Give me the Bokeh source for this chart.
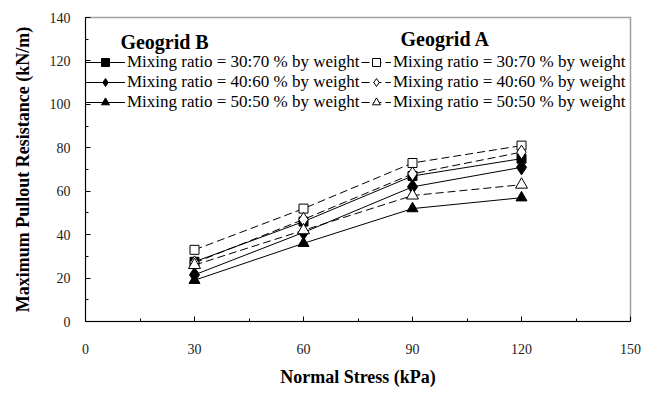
from bokeh.plotting import figure
from bokeh.models import Range1d, FixedTicker, Legend, LegendItem, Label
from bokeh.embed import file_html
from bokeh.resources import INLINE

# Data
normal_stress = [30, 60, 90, 120]
b_3070 = [27.5, 46, 67, 75]
b_4060 = [21.5, 41, 62, 71]
b_5050 = [19, 36, 52, 57]
a_3070 = [33, 52, 73, 81]
a_4060 = [27, 47, 68, 78]
a_5050 = [26, 42, 58, 63]
labels = ["Mixing ratio = 30:70 % by weight",
          "Mixing ratio = 40:60 % by weight",
          "Mixing ratio = 50:50 % by weight"]
x_ticks = [0, 30, 60, 90, 120, 150]
y_ticks = [0, 20, 40, 60, 80, 100, 120, 140]

SERIF = "Liberation Serif"

p = figure(width=651, height=389, output_backend="svg", toolbar_location=None,
           x_range=Range1d(0, 150), y_range=Range1d(0, 140),
           min_border_left=85, min_border_right=21, min_border_top=17, min_border_bottom=66)
p.grid.visible = False
p.outline_line_color = "#a0a0a0"
p.outline_line_width = 1.5
p.background_fill_color = "white"
p.border_fill_color = "white"

for ax in (p.xaxis[0], p.yaxis[0]):
    ax.axis_line_color = "black"
    ax.major_tick_in = 5
    ax.major_tick_out = 0
    ax.minor_tick_in = 3
    ax.minor_tick_out = 0
    ax.major_tick_line_color = "black"
    ax.minor_tick_line_color = "black"
    ax.major_label_text_font = SERIF
    ax.major_label_text_font_size = "14px"
    ax.major_label_text_color = "#222222"
    ax.axis_label_text_font = SERIF
    ax.axis_label_text_font_style = "bold"
    ax.axis_label_text_font_size = "18px"
    ax.axis_label_text_color = "black"

p.xaxis[0].ticker = FixedTicker(ticks=x_ticks, minor_ticks=[15, 45, 75, 105, 135])
p.yaxis[0].ticker = FixedTicker(ticks=y_ticks, minor_ticks=[10, 30, 50, 70, 90, 110, 130])
p.xaxis[0].axis_label = "Normal Stress (kPa)"
p.yaxis[0].axis_label = "Maximum Pullout Resistance (kN/m)"
p.xaxis[0].major_label_standoff = 22
p.xaxis[0].axis_label_standoff = 10
p.yaxis[0].major_label_standoff = 15
p.yaxis[0].axis_label_standoff = 14

series_b = [(b_3070, "square", 9), (b_4060, "diamond", 15), (b_5050, "triangle", 11)]
series_a = [(a_3070, "square", 9), (a_4060, "diamond", 14), (a_5050, "triangle", 12)]

items_b = []
items_a = []
for (vals, mk, sz), lab in zip(series_b, labels):
    ln = p.line(normal_stress, vals, line_color="black", line_width=1)
    sc = p.scatter(normal_stress, vals, marker=mk, size=sz, fill_color="black",
                   line_color="black")
    items_b.append(LegendItem(label=lab, renderers=[ln, sc]))
for (vals, mk, sz), lab in zip(series_a, labels):
    ln = p.line(normal_stress, vals, line_color="black", line_width=1, line_dash="8 4")
    sc = p.scatter(normal_stress, vals, marker=mk, size=sz, fill_color="white",
                   line_color="black")
    items_a.append(LegendItem(label=lab, renderers=[ln, sc]))

def make_legend(items, loc, gw):
    lg = Legend(items=items, location=loc, orientation="vertical")
    lg.glyph_width = gw
    lg.glyph_height = 20
    lg.label_height = 20
    lg.label_standoff = 2
    lg.spacing = 0
    lg.padding = 0
    lg.margin = 0
    lg.border_line_alpha = 0
    lg.background_fill_alpha = 0
    lg.label_text_font = SERIF
    lg.label_text_font_size = "17px"
    lg.label_text_color = "black"
    return lg

p.add_layout(make_legend(items_b, (0, 209), 40), "center")
p.add_layout(make_legend(items_a, (276, 209), 30), "center")

p.add_layout(Label(x=9.6, y=128.5, text="Geogrid B", text_font=SERIF, text_font_style="bold",
                   text_font_size="20px", text_baseline="middle", text_align="left",
                   text_color="black"))
p.add_layout(Label(x=86.7, y=129.9, text="Geogrid A", text_font=SERIF, text_font_style="bold",
                   text_font_size="20px", text_baseline="middle", text_align="left",
                   text_color="black"))

open("out.html", "w").write(file_html(p, INLINE))
